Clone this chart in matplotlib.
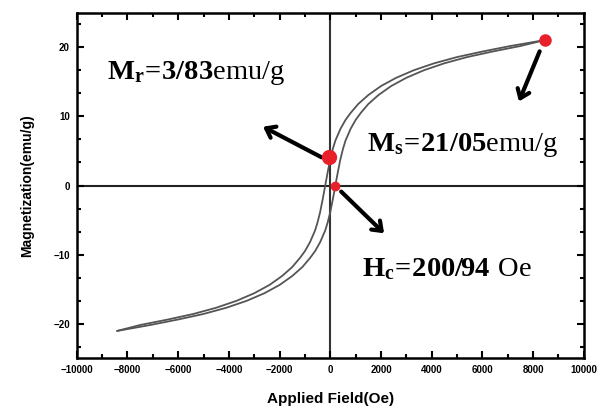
import numpy as np
import matplotlib.pyplot as plt
from matplotlib.ticker import MultipleLocator

plt.rcParams['mathtext.fontset'] = 'custom'
plt.rcParams['mathtext.rm'] = 'Liberation Serif'
plt.rcParams['mathtext.bf'] = 'Liberation Serif:bold'

# descending branch (field swept from +H to -H)
h_down = [8450, 7100, 6000, 5000, 4100, 3300, 2600, 2000, 1500, 1100, 800, 600,
          400, 200, 100, 0, -100, -200, -300, -400, -500, -600, -800, -1000,
          -1200, -1500, -1900, -2400, -3000, -3700, -4500, -5400, -6400, -7500, -8400]
m_down = [21.05, 20.2, 19.4, 18.6, 17.7, 16.7, 15.6, 14.4, 13.1, 11.8, 10.5, 9.5,
          8.2, 6.5, 5.3, 3.83, 2.0, 0.0, -2.0, -3.83, -5.3, -6.5, -8.2, -9.5,
          -10.5, -11.8, -13.1, -14.4, -15.6, -16.7, -17.7, -18.6, -19.4, -20.2, -21.05]
# ascending branch (field swept from -H to +H)
h_up = [-8400, -7100, -6000, -5000, -4100, -3300, -2600, -2000, -1500, -1100, -800, -600,
        -400, -200, -100, 0, 100, 200, 300, 400, 500, 600, 800, 1000,
        1200, 1500, 1900, 2400, 3000, 3700, 4500, 5400, 6400, 7500, 8450]
m_up = [-21.05, -20.2, -19.4, -18.6, -17.7, -16.7, -15.6, -14.4, -13.1, -11.8, -10.5, -9.5,
        -8.2, -6.5, -5.3, -3.83, -2.0, 0.0, 2.0, 3.83, 5.3, 6.5, 8.2, 9.5,
        10.5, 11.8, 13.1, 14.4, 15.6, 16.7, 17.7, 18.6, 19.4, 20.2, 21.05]

# marked points: Ms, Mr, Hc
ms_pt = (8450, 21.05)
mr_pt = (-60, 4.1)
hc_pt = (200, 0.0)

fig = plt.figure(figsize=(6, 4.15), dpi=100)
ax = fig.add_axes([0.128, 0.137, 0.845, 0.832])

ax.plot(h_down, m_down, color='#555555', lw=1.3)
ax.plot(h_up, m_up, color='#555555', lw=1.3)

ax.axhline(0, color='#222222', lw=1.5, zorder=1)
ax.axvline(0, color='#333333', lw=1.5, zorder=1)

ax.plot(*ms_pt, 'o', color='#e8202a', ms=8, zorder=5)
ax.plot(*mr_pt, 'o', color='#e8202a', ms=10, zorder=5)
ax.plot(*hc_pt, 'o', color='#e8202a', ms=6, zorder=5)

arrow = dict(arrowstyle='->, head_width=0.45, head_length=0.6', color='black', lw=3)
ax.annotate('', xy=(7400, 11.8), xytext=(8300, 19.8), arrowprops=arrow)
ax.annotate('', xy=(-2750, 8.7), xytext=(-250, 3.9), arrowprops=arrow)
ax.annotate('', xy=(2200, -7.2), xytext=(350, -0.6), arrowprops=arrow)

ax.text(-8800, 16.3, r'$\mathbf{M_{r}\!=\!3/83}\mathrm{emu/g}$', fontsize=20.5,
        va='center', ha='left')
ax.text(1450, 5.9, r'$\mathbf{M_{s}\!=\!21/05}\mathrm{emu/g}$', fontsize=20.5,
        va='center', ha='left')
ax.text(1250, -12.0, r'$\mathbf{H_{c}\!=\!200/94}\ \mathrm{Oe}$', fontsize=20.5,
        va='center', ha='left')

ax.set_xlim(-10000, 10000)
ax.set_ylim(-25, 25)
ax.xaxis.set_major_locator(MultipleLocator(2000))
ax.xaxis.set_minor_locator(MultipleLocator(1000))
ax.yaxis.set_major_locator(MultipleLocator(10))
ax.yaxis.set_minor_locator(MultipleLocator(10 / 3))
ax.tick_params(which='both', direction='in', top=True, right=True, width=1.5)
ax.tick_params(which='major', length=5, labelsize=7, pad=5)
ax.tick_params(which='minor', length=3)
for lab in ax.get_xticklabels() + ax.get_yticklabels():
    lab.set_fontfamily('Liberation Sans')
    lab.set_fontweight('bold')
for s in ax.spines.values():
    s.set_linewidth(1.8)

ax.set_xlabel('Applied Field(Oe)', fontsize=11, fontweight='bold',
              fontfamily='Liberation Sans', labelpad=12)
ax.set_ylabel('Magnetization(emu/g)', fontsize=10, fontweight='bold',
              fontfamily='Liberation Sans', labelpad=14)

fig.savefig('out.png', dpi=100)
